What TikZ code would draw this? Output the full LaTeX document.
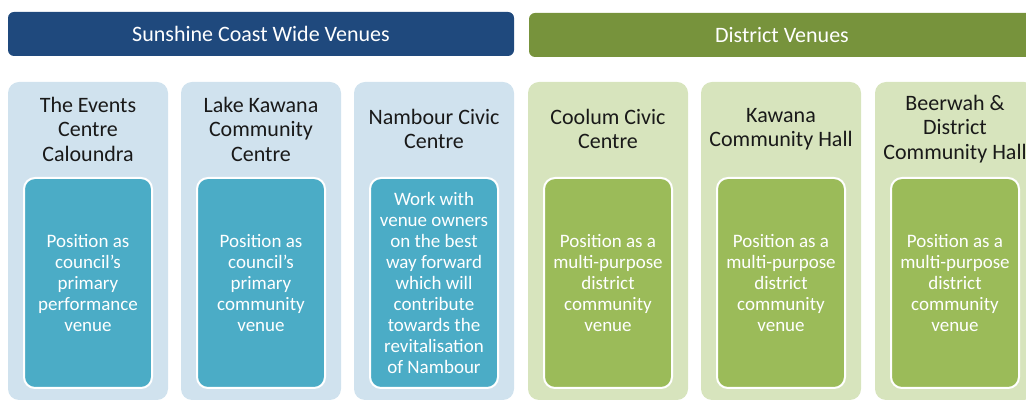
\documentclass[tikz,border=0pt]{standalone}
\usepackage{fontspec}
\setmainfont{Carlito}
\usetikzlibrary{positioning}

\definecolor{coastblue}{HTML}{1F497D}
\definecolor{districtgreen}{HTML}{77933C}
\definecolor{paleblue}{HTML}{D0E2EE}
\definecolor{palegreen}{HTML}{D7E4BD}
\definecolor{roleteal}{HTML}{4BACC6}
\definecolor{rolegreen}{HTML}{9BBB59}

\tikzset{
  header/.style={rounded corners=6pt, minimum width=506pt, minimum height=44pt,
    text=white, font=\fontsize{22}{26}\selectfont},
  venue/.style={rounded corners=11pt, minimum width=160pt, minimum height=318pt},
  venuename/.style={align=center, text=black!90, font=\fontsize{22}{24.5}\selectfont},
  role/.style={draw=white, line width=2pt, rounded corners=11pt, minimum width=128pt,
    minimum height=210pt, align=center, text=white, font=\fontsize{19}{21}\selectfont},
}

\begin{document}
\begin{tikzpicture}[x=1pt, y=1pt]
  \useasboundingbox (0,0) rectangle (1026,401);
  \clip (0,0) rectangle (1026,401);

  % headers
  \node[header, fill=coastblue] (coast) at (261,367) {Sunshine Coast Wide Venues};
  \node[header, fill=districtgreen] (district) at (782,366) {District Venues};

  % venue columns
  \node[venue, fill=paleblue] (events) at (88,160) {};
  \node[venue, fill=paleblue] (lake) at (261,160) {};
  \node[venue, fill=paleblue] (nambour) at (434,160) {};
  \node[venue, fill=palegreen] (coolum) at (608,160) {};
  \node[venue, fill=palegreen] (kawana) at (781,160) {};
  \node[venue, fill=palegreen] (beerwah) at (955,160) {};

  % venue names
  \node[venuename] (eventsname) at (events.center |- 0,272) {The Events\\Centre\\Caloundra};
  \node[venuename] (lakename) at (lake.center |- 0,272) {Lake Kawana\\Community\\Centre};
  \node[venuename] (nambourname) at (nambour.center |- 0,272) {Nambour Civic\\Centre};
  \node[venuename] (coolumname) at (coolum.center |- 0,272) {Coolum Civic\\Centre};
  \node[venuename] (kawananame) at (kawana.center |- 0,272) {Kawana\\Community Hall};
  \node[venuename] (beerwahname) at (beerwah.center |- 0,272) {Beerwah \&\\District\\Community Hall};

  % roles
  \node[role, fill=roleteal] (eventsrole) at (events.center |- 0,118)
    {Position as\\council's\\primary\\performance\\venue};
  \node[role, fill=roleteal] (lakerole) at (lake.center |- 0,118)
    {Position as\\council's\\primary\\community\\venue};
  \node[role, fill=roleteal] (nambourrole) at (nambour.center |- 0,118)
    {Work with\\venue owners\\on the best\\way forward\\which will\\contribute\\towards the\\revitalisation\\of Nambour};
  \node[role, fill=rolegreen] (coolumrole) at (coolum.center |- 0,118)
    {Position as a\\multi-purpose\\district\\community\\venue};
  \node[role, fill=rolegreen] (kawanarole) at (kawana.center |- 0,118)
    {Position as a\\multi-purpose\\district\\community\\venue};
  \node[role, fill=rolegreen] (beerwahrole) at (beerwah.center |- 0,118)
    {Position as a\\multi-purpose\\district\\community\\venue};
\end{tikzpicture}
\end{document}
